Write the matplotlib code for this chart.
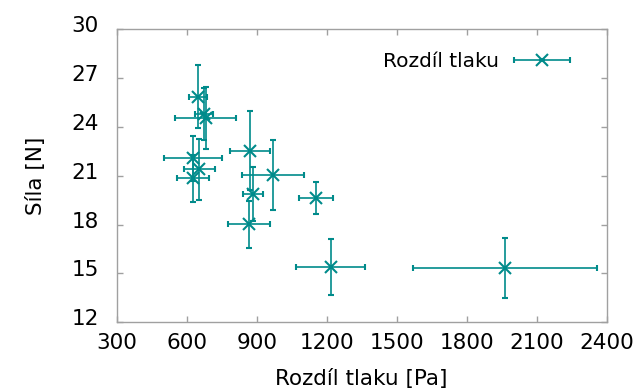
import numpy as np
import matplotlib
matplotlib.use("Agg")
import matplotlib.pyplot as plt
import matplotlib.transforms as mtransforms
from matplotlib.container import ErrorbarContainer
from matplotlib.legend_handler import HandlerErrorbar

# data
dp = [650, 674, 681, 627, 654, 627, 871, 886, 866, 969, 1153, 1218, 1964]
dp_err = [39, 40, 130, 123, 67, 67, 86, 43, 89, 134, 72, 148, 395]
sila = [25.86, 24.79, 24.55, 22.07, 21.40, 20.85, 22.54, 19.86, 18.02, 21.05, 19.65, 15.40, 15.35]
sila_err = [1.92, 1.6, 1.93, 1.4, 1.88, 1.45, 2.44, 1.66, 1.46, 2.13, 0.97, 1.7, 1.84]

xticks = [300, 600, 900, 1200, 1500, 1800, 2100, 2400]
yticks = [12, 15, 18, 21, 24, 27, 30]

barva = "#008b8b"
seda = "#a0a0a0"

fig = plt.figure(figsize=(6.39, 3.89), dpi=100)
ax = fig.add_axes([0.1826, 0.1715, 0.7668, 0.7532])

eb = ax.errorbar(dp, sila, xerr=dp_err, yerr=sila_err, fmt="x", color=barva,
                 ms=9, mew=1.5, elinewidth=1.2, capsize=2.2, capthick=1.2,
                 label="Rozdíl tlaku")

ax.set_xlim(300, 2400)
ax.set_ylim(12, 30)
ax.set_xticks(xticks)
ax.set_yticks(yticks)

for s in ax.spines.values():
    s.set_color(seda)
    s.set_linewidth(1.0)
ax.tick_params(direction="in", length=4, width=1, color=seda,
               top=True, right=True, labelsize=15.5, labelcolor="black")
ax.tick_params(axis="x", pad=8)
ax.tick_params(axis="y", pad=13)

# popisky osy y trochu vys
posun = mtransforms.ScaledTranslation(0, 5 / 100, fig.dpi_scale_trans)
for lab in ax.get_yticklabels():
    lab.set_transform(lab.get_transform() + posun)

ax.set_xlabel("Rozdíl tlaku [Pa]", fontsize=15.5, labelpad=11)
ax.set_ylabel("Síla [N]", fontsize=15.5, labelpad=18)

leg = ax.legend(handles=[eb], loc="upper right", bbox_to_anchor=(0.925, 0.921),
                markerfirst=False, frameon=False, fontsize=14.5, borderpad=0,
                borderaxespad=0, handlelength=2.8, handletextpad=0.7,
                handler_map={ErrorbarContainer: HandlerErrorbar(xerr_size=1.4, yerr_size=0)})

fig.savefig("out.png", dpi=100)
